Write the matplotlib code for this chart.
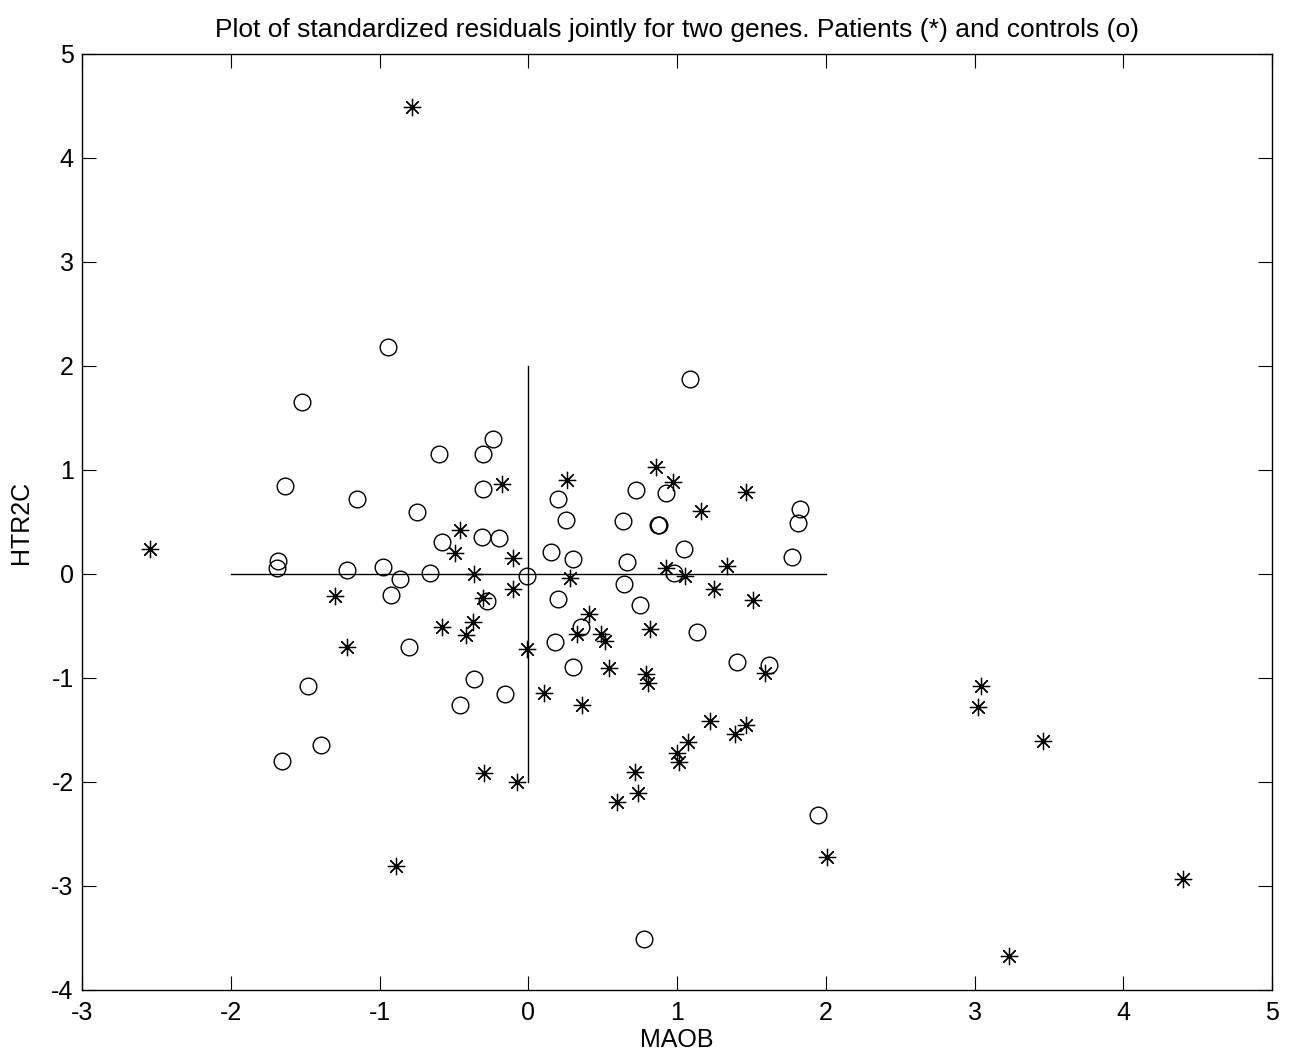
import matplotlib.pyplot as plt

plt.rcParams['font.family'] = ['Liberation Sans', 'DejaVu Sans']
plt.rcParams['axes.unicode_minus'] = False

# controls (o)
ctrl_x = [-0.94, -1.52, 1.085, -0.60, -0.235, -0.305, -1.634, -1.152, -0.748, -0.305,
          -0.578, -0.309, -0.195, -1.683, -1.692, -1.217, -0.975, -0.865, -0.663, -0.923,
          -0.278, -0.009, 0.202, 0.253, 0.155, 0.303, 0.202, 0.177, 0.352, 0.298,
          -0.80, -0.365, -0.462, -0.157, -1.479, -1.394, -1.654, 0.724, 0.926, 0.636,
          0.870, 0.882, 0.661, 0.641, 0.753, 0.981, 1.044, 1.131, 1.405, 1.618,
          1.770, 1.810, 1.824, 1.950, 0.780]
ctrl_y = [2.18, 1.65, 1.878, 1.157, 1.30, 1.157, 0.843, 0.718, 0.60, 0.82,
          0.31, 0.353, 0.343, 0.125, 0.058, 0.038, 0.067, -0.051, 0.006, -0.202,
          -0.263, -0.016, 0.721, 0.522, 0.212, 0.144, -0.237, -0.651, -0.510, -0.897,
          -0.699, -1.006, -1.263, -1.157, -1.077, -1.641, -1.795, 0.81, 0.782, 0.506,
          0.471, 0.475, 0.115, -0.100, -0.298, 0.006, 0.240, -0.558, -0.846, -0.872,
          0.167, 0.487, 0.625, -2.314, -3.51]

# patients (*)
pat_x = [-0.78, -2.54, -0.175, 0.262, 0.856, 0.970, 1.163, 1.461, -0.459, -0.491,
         -0.103, -0.363, 0.278, -1.297, -0.305, -0.103, -1.217, -0.580, -0.419, -0.372,
         -0.012, 0.325, 0.410, 0.486, 0.515, 0.540, 0.363, 0.105, 0.816, 0.793,
         0.804, 0.926, 1.053, 1.333, 1.248, 1.508, 1.591, 1.219, 1.392, 1.465,
         1.071, 0.997, 1.011, 0.715, 0.737, 0.598, -0.300, -0.074, -0.888, 2.010,
         3.045, 3.025, 3.460, 4.400, 3.230]
pat_y = [4.49, 0.24, 0.865, 0.901, 1.032, 0.888, 0.609, 0.785, 0.423, 0.205,
         0.157, -0.003, -0.042, -0.208, -0.231, -0.144, -0.705, -0.506, -0.587, -0.458,
         -0.72, -0.580, -0.388, -0.577, -0.644, -0.907, -1.256, -1.144, -0.526, -0.965,
         -1.051, 0.058, -0.019, 0.077, -0.144, -0.25, -0.955, -1.413, -1.538, -1.449,
         -1.618, -1.718, -1.805, -1.904, -2.109, -2.189, -1.913, -2.0, -2.81, -2.72,
         -1.077, -1.28, -1.61, -2.93, -3.67]

fig = plt.figure(figsize=(12.98, 10.62), dpi=100)
ax = fig.add_axes([0.0632, 0.0678, 0.9168, 0.8814])

# cross through the origin
ax.plot([-2, 2], [0, 0], color='black', lw=1)
ax.plot([0, 0], [-2, 2], color='black', lw=1)

ax.plot(pat_x, pat_y, linestyle='none', marker=(8, 2, 0), markersize=12.5,
        markeredgecolor='black', markeredgewidth=0.9)
ax.plot(ctrl_x, ctrl_y, linestyle='none', marker='o', markersize=12,
        markerfacecolor='none', markeredgecolor='black', markeredgewidth=1.0)

ax.set_xlim(-3, 5)
ax.set_ylim(-4, 5)
ax.set_xticks(range(-3, 6))
ax.set_yticks(range(-4, 6))
ax.tick_params(direction='in', length=10, top=True, right=True, labelsize=18, width=0.8)
ax.tick_params(axis='x', pad=8)
ax.tick_params(axis='y', pad=6)
for s in ax.spines.values():
    s.set_linewidth(1.0)

ax.set_xlabel('MAOB', fontsize=18, labelpad=2)
ax.set_ylabel('HTR2C', fontsize=18, labelpad=13)
ax.set_title('Plot of standardized residuals jointly for two genes. Patients (*) and controls (o)',
             fontsize=19, pad=12)

fig.savefig('out.png', dpi=100)
